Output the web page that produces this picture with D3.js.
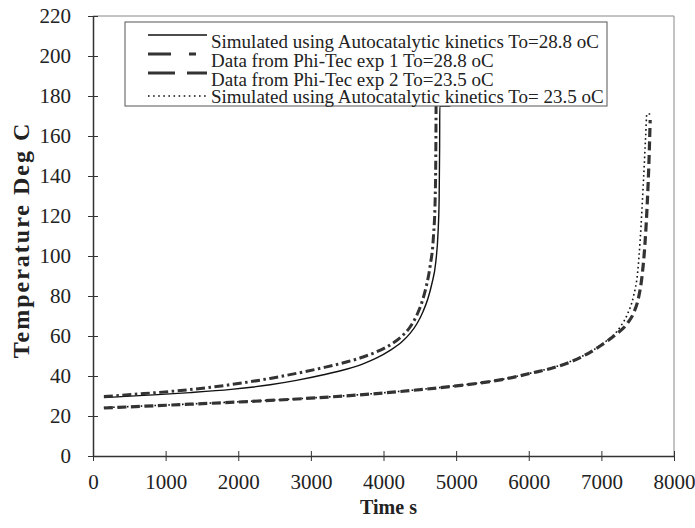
<!DOCTYPE html>
<html>
<head>
<meta charset="utf-8">
<script src="https://cdn.jsdelivr.net/npm/d3@7"></script>
<style>
  body { margin: 0; background: #fff; }
  svg { display: block; }
  text { font-family: "Liberation Serif", "Times New Roman", serif; fill: #222; }
</style>
</head>
<body>
<div class="chart"></div>
<script>
// DATA  [time s, temperature C]
const simHigh = [[150,29.2],[700,30.3],[1336,31.7],[1900,33.3],[2438,35.6],[2800,37.8],[3174,40.6],[3500,43.5],
  [3719,46.1],[3900,48.9],[4091,52.8],[4250,57],[4366,61.3],[4458,66],[4545,72.3],[4610,78.5],[4665,86],
  [4720,97],[4750,111],[4766,128],[4773,155],[4775,175],[4920,175]];
const exp1High = [[150,29.7],[700,31.2],[1336,33.2],[1900,35.7],[2438,38.8],[2800,41.3],[3174,44.2],[3500,47.1],
  [3719,49.5],[3900,52],[4091,55.5],[4250,59.8],[4366,64.5],[4460,70.5],[4530,77],[4590,85],[4642,95],
  [4688,110],[4711,128],[4720,150],[4724,175]];
const exp2Low = [[150,24],[700,24.9],[1336,25.9],[2000,27],[2713,28.3],[3300,29.6],[3861,31.1],[4400,32.8],
  [4917,34.7],[5331,36.5],[5700,38.7],[6019,41.3],[6400,44.8],[6708,49.2],[6983,55],[7200,60.8],[7351,66],
  [7450,72],[7511,79],[7560,90],[7600,106],[7630,125],[7655,147],[7672,168]];
const simLow = [[150,24.2],[700,25],[1336,26],[2000,27.1],[2713,28.4],[3300,29.7],[3861,31.2],[4400,32.9],
  [4917,34.8],[5331,36.6],[5700,38.8],[6019,41.4],[6400,45],[6708,49.4],[6983,55.3],[7259,64.5],[7360,71],
  [7443,80],[7500,92],[7534,108],[7580,138],[7610,160],[7626,171],[7695,171]];

const xTicks = [0,1000,2000,3000,4000,5000,6000,7000,8000];
const yTicks = [0,20,40,60,80,100,120,140,160,180,200,220];
const legendLabels = [
  "Simulated using Autocatalytic kinetics To=28.8 oC",
  "Data from Phi-Tec exp 1 To=28.8 oC",
  "Data from Phi-Tec exp 2 To=23.5 oC",
  "Simulated using Autocatalytic kinetics To= 23.5 oC"
];

// LAYOUT
const W = 695, H = 528;
const pl = 93, pr = 674, pt = 16, pb = 456;

const svg = d3.select(".chart").append("svg")
  .attr("width", W).attr("height", H);

const x = d3.scaleLinear().domain([0, 8000]).range([pl, pr]);
const y = d3.scaleLinear().domain([0, 220]).range([pb, pt]);

// frame (top / right, faint)
svg.append("line").attr("x1", pl).attr("x2", pr).attr("y1", pt).attr("y2", pt)
  .attr("stroke", "#888").attr("stroke-width", 1);
svg.append("line").attr("x1", pr).attr("x2", pr).attr("y1", pt).attr("y2", pb)
  .attr("stroke", "#888").attr("stroke-width", 1);

// axes
const xAxis = svg.append("g").attr("transform", `translate(0,${pb})`)
  .call(d3.axisBottom(x).tickValues(xTicks).tickFormat(d3.format("d")).tickSizeOuter(0));
xAxis.selectAll(".tick line").attr("y1", -5).attr("y2", 5);
xAxis.selectAll(".tick text").attr("y", 18).attr("font-size", 21);

const yAxis = svg.append("g").attr("transform", `translate(${pl},0)`)
  .call(d3.axisLeft(y).tickValues(yTicks).tickSizeOuter(0));
yAxis.selectAll(".tick line").attr("x1", 5).attr("x2", -5);
yAxis.selectAll(".tick text").attr("x", -22).attr("font-size", 21);

svg.selectAll(".domain").attr("stroke", "#333").attr("stroke-width", 1.5);
svg.selectAll(".tick line").attr("stroke", "#333").attr("stroke-width", 1);
svg.selectAll(".tick text").attr("fill", "#222").attr("font-family", "Liberation Serif, serif");

// axis titles
svg.append("text")
  .attr("x", (pl + pr) / 2 + 5).attr("y", 514)
  .attr("text-anchor", "middle").attr("font-size", 20).attr("font-weight", "bold")
  .text("Time s");

svg.append("text")
  .attr("transform", `translate(29,${(pt + pb) / 2 + 4}) rotate(-90)`)
  .attr("text-anchor", "middle").attr("font-size", 24).attr("font-weight", "bold")
  .attr("letter-spacing", 2)
  .text("Temperature Deg C");

// curves
const line = d3.line()
  .x(d => x(d[0]))
  .y(d => y(d[1]))
  .curve(d3.curveMonotoneX);

const series = [
  { data: simLow,  stroke: "#111", width: 1.6, dash: "1.6,3" },
  { data: exp2Low, stroke: "#333", width: 3.2, dash: "9,4.5" },
  { data: simHigh, stroke: "#111", width: 1.4, dash: null },
  { data: exp1High, stroke: "#333", width: 3, dash: "9,3.5,2.5,3.5" }
];

svg.append("g").selectAll("path")
  .data(series)
  .join("path")
  .attr("d", d => line(d.data))
  .attr("fill", "none")
  .attr("stroke", d => d.stroke)
  .attr("stroke-width", d => d.width)
  .attr("stroke-dasharray", d => d.dash);

// legend
const lg = svg.append("g");
lg.append("rect")
  .attr("x", 125).attr("y", 22).attr("width", 482).attr("height", 84)
  .attr("fill", "#fff").attr("stroke", "#555").attr("stroke-width", 1);

const legendStyle = [
  { stroke: "#111", width: 1.4, dash: null, ly: 35 },
  { stroke: "#333", width: 3, dash: "23,18,7,20", ly: 54 },
  { stroke: "#333", width: 3, dash: "27,12,20", ly: 73 },
  { stroke: "#111", width: 1.6, dash: "1.6,3.5", ly: 96 }
];
const textBase = [48, 67, 86, 103];

legendStyle.forEach((s, i) => {
  lg.append("line")
    .attr("x1", 148).attr("x2", 207).attr("y1", s.ly).attr("y2", s.ly)
    .attr("stroke", s.stroke).attr("stroke-width", s.width)
    .attr("stroke-dasharray", s.dash);
  lg.append("text")
    .attr("x", 211).attr("y", textBase[i])
    .attr("font-size", 19)
    .text(legendLabels[i]);
});
</script>
</body>
</html>
